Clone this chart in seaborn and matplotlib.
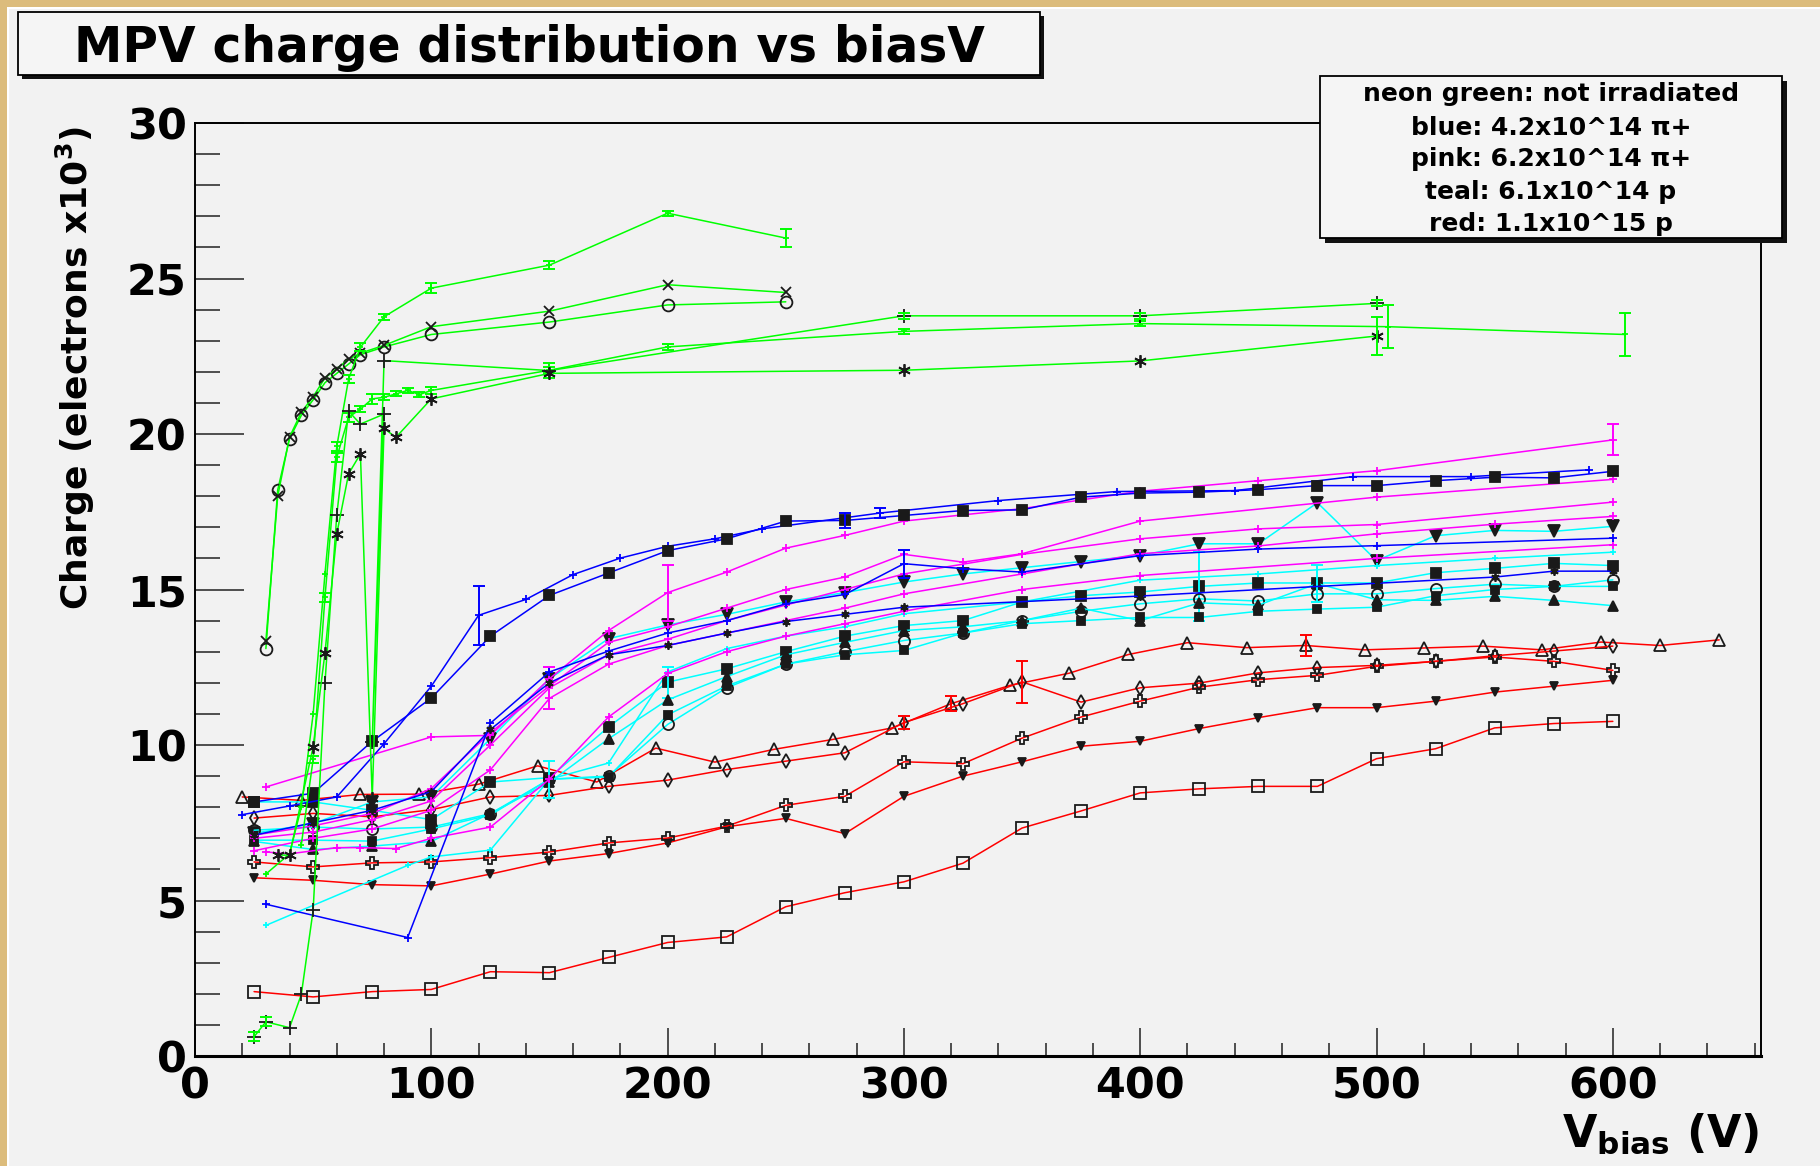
import matplotlib
matplotlib.use("Agg")
import matplotlib.pyplot as plt
from matplotlib.patches import Rectangle
from matplotlib.ticker import MultipleLocator
from matplotlib import font_manager
import seaborn as sns

# ---------------- data ----------------
# neon green: not irradiated
g_circ_x = [30, 35, 40, 45, 50, 55, 60, 65, 70, 80, 100, 150, 200, 250]
g_circ_y = [13.1, 18.2, 19.85, 20.6, 21.1, 21.65, 21.95, 22.25, 22.55, 22.8, 23.2, 23.6, 24.15, 24.25]
g_x_y = [13.35, 18.0, 19.9, 20.7, 21.2, 21.8, 22.1, 22.4, 22.6, 22.85, 23.45, 23.95, 24.8, 24.55]
g_top_x = [30, 40, 45, 50, 55, 60, 65, 70, 80, 100, 150, 200, 250]
g_top_y = [5.85, 6.5, 8.0, 11.0, 15.5, 19.6, 21.77, 22.79, 23.77, 24.69, 25.43, 27.1, 26.3]
g_top_err = [0, 0, 0, 0, 0, 0.15, 0.12, 0.12, 0.1, 0.15, 0.12, 0.08, 0.3]
g_small_x = [45, 50, 55, 60, 65, 70, 75, 80, 85, 90, 95, 100, 150, 200, 300, 400, 505, 605]
g_small_y = [6.8, 9.54, 14.75, 19.25, 20.54, 20.8, 21.13, 21.18, 21.29, 21.4, 21.27, 21.4,
             22.05, 22.8, 23.3, 23.55, 23.45, 23.2]
g_small_err = [0, 0.12, 0.15, 0.15, 0.15, 0.1, 0.15, 0.1, 0.08, 0.08, 0.08, 0.1,
               0.1, 0.1, 0.08, 0.08, 0.7, 0.7]
g_plus_x = [25, 30, 40, 45, 50, 55, 60, 65, 70, 80, 75, 80, 150, 300, 400, 500]
g_plus_y = [0.62, 1.1, 0.91, 1.98, 4.69, 12.0, 17.4, 20.73, 20.32, 20.64, 10.1, 22.36,
            22.04, 23.8, 23.8, 24.2]
g_plus_err = [0.15, 0.15, 0, 0, 0, 0, 0, 0, 0, 0, 0, 0, 0.25, 0.1, 0.1, 0.1]
g_ast_x = [35, 40, 50, 55, 60, 65, 70, 75, 80, 85, 100, 150, 300, 400, 500]
g_ast_y = [6.46, 6.46, 9.94, 12.96, 16.79, 18.72, 19.36, 8.3, 20.18, 19.89, 21.13,
           21.95, 22.05, 22.35, 23.15]
g_ast_err = [0, 0, 0, 0, 0, 0, 0, 0, 0, 0, 0, 0, 0, 0, 0.6]

# blue: 4.2x10^14 pi+
b1_x = [20, 40, 60, 80, 100, 120, 140, 160, 180, 200, 220, 240, 290, 340, 390, 440, 490, 540, 590]
b1_y = [7.76, 8.04, 8.33, 10.04, 11.89, 14.17, 14.68, 15.48, 16.01, 16.39, 16.63, 16.95,
        17.46, 17.86, 18.15, 18.18, 18.63, 18.63, 18.85]
b1_err = [0, 0, 0, 0, 0, 0.95, 0, 0, 0, 0, 0, 0, 0.15, 0, 0, 0, 0, 0, 0]
v25 = list(range(25, 625, 25))
b2_y = [8.17, 8.45, 10.12, 11.51, 13.5, 14.81, 15.53, 16.25, 16.63, 17.2, 17.22, 17.38,
        17.54, 17.56, 17.97, 18.1, 18.13, 18.21, 18.34, 18.34, 18.5, 18.61, 18.59, 18.8]
b2_err = [0] * 10 + [0.25] + [0] * 13
b3_x = [30, 90, 125, 150, 175, 200, 225, 250, 275, 300, 325, 350, 400, 450, 500, 600]
b3_y = [4.88, 3.81, 10.7, 12.35, 13.02, 13.6, 14.0, 14.54, 14.84, 15.83, 15.67, 15.56,
        16.09, 16.3, 16.41, 16.65]
b3_err = [0] * 9 + [0.45] + [0] * 6
b4_x = [25, 50, 75, 100, 125, 150, 175, 200, 225, 250, 275, 300, 400, 500, 550, 575, 600]
b4_y = [7.1, 7.5, 7.9, 8.5, 10.5, 12.0, 12.9, 13.2, 13.6, 13.97, 14.2, 14.43, 14.79,
        15.2, 15.4, 15.59, 15.59]

# pink: 6.2x10^14 pi+
m1_x = [30, 100, 125, 150, 175, 200, 225, 250, 275, 300, 350, 400, 450, 500, 600]
m1_y = [8.65, 10.26, 10.31, 12.13, 13.68, 14.9, 15.56, 16.33, 16.74, 17.2, 17.6, 18.16,
        18.5, 18.82, 19.81]
m1_err = [0, 0, 0, 0, 0, 0.9, 0, 0, 0, 0, 0, 0, 0, 0, 0.5]
m2_x = [25, 50, 75, 100, 125, 150, 175, 200, 225, 250, 275, 300, 325, 350, 400, 500, 600]
m2_y = [7.1, 7.4, 7.8, 8.6, 10.4, 11.9, 13.3, 13.8, 14.4, 15.0, 15.4, 16.13, 15.88,
        16.15, 17.2, 17.97, 18.54]
m3_x = [25, 50, 75, 100, 125, 150, 175, 200, 225, 250, 275, 300, 350, 400, 450, 500, 600]
m3_y = [7.0, 7.2, 7.6, 8.2, 10.0, 11.84, 12.9, 13.4, 14.0, 14.5, 15.0, 15.5, 16.13,
        16.63, 16.95, 17.09, 17.81]
m3_err = [0, 0, 0, 0, 0, 0.67, 0, 0, 0, 0, 0, 0, 0, 0, 0, 0, 0]
m4_x = [25, 50, 75, 100, 125, 150, 175, 200, 225, 250, 275, 300, 350, 400, 450, 500, 550, 600]
m4_y = [6.6, 7.0, 7.3, 7.9, 9.2, 11.5, 12.6, 13.2, 13.6, 14.0, 14.4, 14.86, 15.5, 16.15,
        16.4, 16.79, 17.1, 17.35]
m5_x = [30, 40, 60, 70, 85, 100, 125, 150, 175, 200, 225, 250, 275, 300, 350, 400, 500, 600]
m5_y = [6.56, 6.5, 6.7, 6.7, 6.67, 7.0, 7.36, 8.9, 10.9, 12.3, 13.0, 13.5, 13.9, 14.3,
        15.0, 15.45, 16.0, 16.44]

# teal: 6.1x10^14 p
c1_y = [7.16, 7.47, 8.17, 8.33, 10.2, 12.13, 13.42, 13.86, 14.2, 14.6, 14.9, 15.24,
        15.5, 15.7, 15.9, 16.09, 16.47, 16.47, 17.79, 15.93, 16.73, 16.9, 16.87, 17.03]
c2_x = [30, 90, 100, 125, 150, 175, 200, 225, 250, 275, 300, 350, 400, 450, 500, 550, 600]
c2_y = [4.2, 6.13, 6.4, 6.62, 8.9, 9.42, 12.35, 13.1, 13.5, 13.8, 14.22, 14.6, 15.3,
        15.5, 15.77, 16.0, 16.2]
c3_y = [8.17, 8.17, 7.9, 7.6, 8.81, 8.95, 10.58, 12.02, 12.45, 13.0, 13.5, 13.84, 14.0,
        14.6, 14.8, 14.92, 15.1, 15.21, 15.21, 15.21, 15.54, 15.68, 15.84, 15.77]
c3_err = [0] * 7 + [0.5] + [0] * 8 + [1.1] + [0] * 7
c4_y = [7.26, 7.36, 7.3, 7.36, 7.79, 8.9, 9.0, 10.66, 11.84, 12.6, 13.0, 13.36, 13.6,
        14.0, 14.3, 14.54, 14.7, 14.63, 14.86, 14.86, 15.03, 15.17, 15.1, 15.31]
c5_y = [6.9, 6.64, 6.75, 6.9, 7.8, 8.8, 10.2, 11.45, 12.2, 12.9, 13.3, 13.68, 13.8, 14.0,
        14.4, 14.0, 14.57, 14.5, 15.19, 14.67, 14.65, 14.78, 14.65, 14.48]
c5_err = [0] * 18 + [0.6] + [0] * 5
c6_y = [6.94, 6.94, 6.91, 7.3, 7.75, 8.9, 8.97, 10.97, 11.9, 12.6, 12.9, 13.04, 13.6,
        13.9, 14.0, 14.1, 14.1, 14.3, 14.37, 14.43, 14.8, 15.0, 15.1, 15.1]
c6_err = [0] * 5 + [0.6] + [0] * 18

# red: 1.1x10^15 p
r1_y = [2.07, 1.9, 2.07, 2.14, 2.71, 2.68, 3.17, 3.65, 3.83, 4.8, 5.25, 5.6, 6.2, 7.33,
        7.88, 8.46, 8.59, 8.67, 8.67, 9.56, 9.88, 10.55, 10.69, 10.76]
r2_y = [5.73, 5.65, 5.51, 5.47, 5.85, 6.27, 6.51, 6.85, 7.37, 7.64, 7.15, 8.35, 9.0,
        9.46, 9.96, 10.12, 10.53, 10.88, 11.2, 11.2, 11.41, 11.7, 11.89, 12.08]
r3_y = [6.24, 6.08, 6.21, 6.24, 6.38, 6.56, 6.85, 7.01, 7.39, 8.06, 8.35, 9.46, 9.4,
        10.22, 10.9, 11.41, 11.86, 12.1, 12.24, 12.53, 12.69, 12.83, 12.69, 12.4]
r4_x = list(range(20, 670, 25))
r4_y = [8.33, 8.22, 8.41, 8.42, 8.74, 9.33, 8.81, 9.9, 9.45, 9.86, 10.18, 10.55, 11.33,
        11.92, 12.31, 12.91, 13.29, 13.13, 13.2, 13.06, 13.12, 13.18, 13.06, 13.31, 13.2, 13.38]
r4_err = [0] * 12 + [0.25] + [0] * 5 + [0.35] + [0] * 7
r5_y = [7.65, 7.8, 7.69, 7.92, 8.33, 8.38, 8.67, 8.87, 9.21, 9.48, 9.75, 10.72, 11.33,
        12.03, 11.38, 11.84, 11.99, 12.32, 12.49, 12.56, 12.69, 12.87, 13.02, 13.18]
r5_err = [0] * 11 + [0.2, 0, 0.67] + [0] * 10

legend_lines = ["neon green: not irradiated", "blue: 4.2x10^14 \u03c0+",
                "pink: 6.2x10^14 \u03c0+", "teal: 6.1x10^14 p", "red: 1.1x10^15 p"]

GREEN, BLUE, PINK, TEAL, RED = "#00FF00", "#0000FF", "#FF00FF", "#00FFFF", "#FF0000"
BG = "#F2F2F2"

# ---------------- style ----------------
sns.set_theme(style="ticks")
plt.rcParams['font.family'] = ['DejaVu Sans']
plt.rcParams['font.weight'] = 'bold'
plt.rcParams['mathtext.default'] = 'bf'
plt.rcParams['text.color'] = 'black'

fig = plt.figure(figsize=(18.2, 11.66), dpi=100, facecolor=BG)
W, H = 1820.0, 1166.0
ax = fig.add_axes([195 / W, 1 - 1056 / H, 1566 / W, 933 / H])
ax.set_facecolor(BG)

ASTER = (6, 2, 0)


def draw(x, y, color, marker, ms=7, mfc='k', mec='k', err=None):
    sns.lineplot(x=x, y=y, sort=False, estimator=None, color=color, lw=1.1,
                 marker=marker, markersize=ms, markerfacecolor=mfc,
                 markeredgecolor=mec, markeredgewidth=1.3, ax=ax, zorder=2)
    if err is not None:
        ex = [a for a, e in zip(x, err) if e > 0]
        ey = [b for b, e in zip(y, err) if e > 0]
        ee = [e for e in err if e > 0]
        ax.errorbar(ex, ey, yerr=ee, fmt='none', ecolor=color, elinewidth=1.4,
                    capsize=4, capthick=1.4, zorder=2)


# red
draw(v25, r1_y, RED, 's', ms=8, mfc='none')
draw(v25, r2_y, RED, 'v', ms=6)
draw(v25, r3_y, RED, 'P', ms=9, mfc='none')
draw(r4_x, r4_y, RED, '^', ms=8.5, mfc='none', err=r4_err)
draw(v25, r5_y, RED, 'd', ms=7.5, mfc='none', err=r5_err)
# teal
draw(v25, c1_y, TEAL, 'v', ms=8)
draw(c2_x, c2_y, TEAL, '+', ms=4.5, mec=TEAL)
draw(v25, c3_y, TEAL, 's', ms=7.5, err=c3_err)
draw(v25, c4_y, TEAL, 'o', ms=8, mfc='none')
draw(v25, c5_y, TEAL, '^', ms=7, err=c5_err)
draw(v25, c6_y, TEAL, 's', ms=6, err=c6_err)
# pink
draw(m1_x, m1_y, PINK, '+', ms=5.5, mec=PINK, err=m1_err)
draw(m2_x, m2_y, PINK, '+', ms=5.5, mec=PINK)
draw(m3_x, m3_y, PINK, '+', ms=5.5, mec=PINK, err=m3_err)
draw(m4_x, m4_y, PINK, '+', ms=5.5, mec=PINK)
draw(m5_x, m5_y, PINK, '+', ms=5.5, mec=PINK)
# blue
draw(b1_x, b1_y, BLUE, '+', ms=5.5, mec=BLUE, err=b1_err)
draw(v25, b2_y, BLUE, 's', ms=7.5, err=b2_err)
draw(b3_x, b3_y, BLUE, '+', ms=5.5, mec=BLUE, err=b3_err)
draw(b4_x, b4_y, BLUE, ASTER, ms=6)
# green
draw(g_circ_x, g_circ_y, GREEN, 'o', ms=8.5, mfc='none')
draw(g_circ_x, g_x_y, GREEN, 'x', ms=7)
draw(g_top_x, g_top_y, GREEN, '+', ms=4.5, mec=GREEN, err=g_top_err)
draw(g_small_x, g_small_y, GREEN, '+', ms=4.5, mec=GREEN, err=g_small_err)
draw(g_plus_x, g_plus_y, GREEN, '+', ms=10, err=g_plus_err)
draw(g_ast_x, g_ast_y, GREEN, ASTER, ms=9, err=g_ast_err)

# ---------------- axes ----------------
ax.set_xlim(0, 662.7)
ax.set_ylim(0, 30)
ax.xaxis.set_major_locator(MultipleLocator(100))
ax.xaxis.set_minor_locator(MultipleLocator(20))
ax.yaxis.set_major_locator(MultipleLocator(5))
ax.yaxis.set_minor_locator(MultipleLocator(1))
ax.tick_params(axis='y', which='major', direction='in', length=35, width=1.1, color='#222222',
               labelsize=31, pad=6, left=True, right=False, labelcolor='black')
ax.tick_params(axis='y', which='minor', direction='in', length=18, width=1.1, color='#222222',
               left=True, right=False)
ax.tick_params(axis='x', which='major', direction='in', length=20, width=1.1, color='#222222',
               labelsize=31, pad=7, bottom=True, top=False, labelcolor='black')
ax.tick_params(axis='x', which='minor', direction='in', length=9.5, width=1.1, color='#222222',
               bottom=True, top=False)
for lab in ax.get_xticklabels() + ax.get_yticklabels():
    lab.set_fontweight('bold')
for s in ax.spines.values():
    s.set_color('black')
    s.set_linewidth(1.4)
ax.spines['bottom'].set_linewidth(2.2)
ax.set_xlabel('')
ax.set_ylabel('')

names = {f.name for f in font_manager.fontManager.ttflist}
if 'Liberation Sans Narrow' in names:
    ylab_family, ylab_size = ['Liberation Sans Narrow', 'DejaVu Sans'], 35
else:
    ylab_family, ylab_size = ['DejaVu Sans'], 26
fig.text(75 / W, 1 - 126 / H, r'Charge (electrons x10$^{3}$)', rotation=90, ha='center',
         va='top', fontsize=ylab_size, fontweight='bold', family=ylab_family, color='black')
fig.text(1759 / W, 1 - 1147 / H, r'V$_{bias}$ (V)', ha='right', va='baseline',
         fontsize=32, fontweight='bold', color='black')

# ---------------- canvas frame, title box, legend box ----------------
def box(x0, y0, x1, y1, shadow):
    fig.add_artist(Rectangle((x0 / W + shadow / W, 1 - y1 / H - shadow / H), (x1 - x0) / W,
                             (y1 - y0) / H, transform=fig.transFigure, facecolor='#111111',
                             edgecolor='none', zorder=5))
    fig.add_artist(Rectangle((x0 / W, 1 - y1 / H), (x1 - x0) / W, (y1 - y0) / H,
                             transform=fig.transFigure, facecolor='#F5F5F5',
                             edgecolor='black', lw=1.3, zorder=6))


fig.add_artist(Rectangle((0, 1 - 7 / H), 1, 7 / H, transform=fig.transFigure,
                         facecolor='#DCBC7C', edgecolor='none', zorder=4))
fig.add_artist(Rectangle((0, 0), 7 / W, 1, transform=fig.transFigure,
                         facecolor='#DCBC7C', edgecolor='none', zorder=4))
fig.add_artist(Rectangle((7 / W, 1 - 9 / H), 1, 2 / H, transform=fig.transFigure,
                         facecolor='white', edgecolor='none', zorder=4))
fig.add_artist(Rectangle((7 / W, 0), 2 / W, 1 - 7 / H, transform=fig.transFigure,
                         facecolor='white', edgecolor='none', zorder=4))

box(18, 12, 1040, 75, 4)
fig.text(529 / W, 1 - 62 / H, 'MPV charge distribution vs biasV', ha='center', va='baseline',
         fontsize=35, fontweight='bold', color='black', zorder=7)

box(1320, 76, 1782, 238, 5)
for txt, yb in zip(legend_lines, [101, 135, 166, 199, 231]):
    fig.text(1551 / W, 1 - yb / H, txt, ha='center', va='baseline', fontsize=18,
             fontweight='bold', color='black', zorder=7)

fig.savefig('out.png', dpi=100, facecolor=BG)
